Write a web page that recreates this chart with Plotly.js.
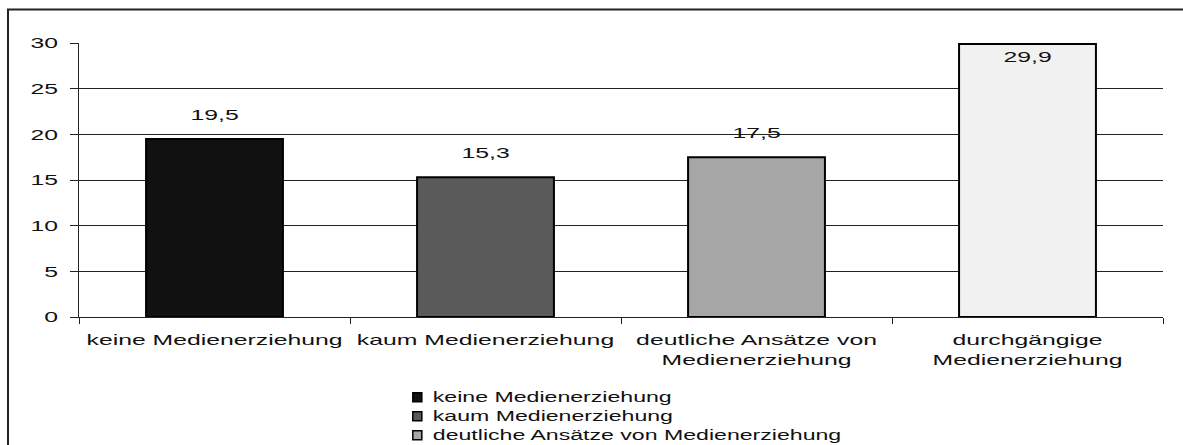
<!DOCTYPE html>
<html>
<head>
<meta charset="utf-8">
<script src="https://cdn.plot.ly/plotly-3.0.1.min.js"></script>
<style>
  html, body { margin: 0; padding: 0; background: #fff; }
  #chart { width: 1183px; height: 445px; }
</style>
</head>
<body>
<div id="chart"></div>
<script>
// ---- data ----
var categories = [
  "keine Medienerziehung",
  "kaum Medienerziehung",
  "deutliche Ansätze von Medienerziehung",
  "durchgängige Medienerziehung"
];
var tickLabels = [
  "keine Medienerziehung",
  "kaum Medienerziehung",
  "deutliche Ansätze von<br>Medienerziehung",
  "durchgängige<br>Medienerziehung"
];
var values = [19.5, 15.3, 17.5, 29.9];
var barColors = ["#111111", "#5a5a5a", "#a6a6a6", "#f1f1f1"];
// the reference legend is cut by the frame after the third entry
var legendVisible = [true, true, true, false];

var FONT = "Liberation Sans, Arial, sans-serif";

var traces = categories.map(function (name, i) {
  return {
    type: "bar",
    name: name,
    x: [tickLabels[i]],
    y: [values[i]],
    showlegend: legendVisible[i],
    marker: { color: barColors[i], line: { color: "#000", width: 2 } },
    hoverinfo: "skip"
  };
});

function fmt(v) { return v.toFixed(1).replace(".", ","); }

var annotations = values.map(function (v, i) {
  var inside = v > 28;
  return {
    x: tickLabels[i], y: v, xref: "x", yref: "y",
    text: fmt(v), showarrow: false,
    yanchor: inside ? "top" : "bottom",
    yshift: inside ? -2 : 14,
    font: { family: FONT, size: 15, color: "#111" }
  };
});

var layout = {
  width: 1183, height: 445,
  margin: { l: 79, r: 20, t: 43, b: 127.5, autoexpand: false },
  paper_bgcolor: "#fff", plot_bgcolor: "#fff",
  font: { family: FONT, size: 15, color: "#111" },
  separators: ",.",
  barmode: "overlay",
  bargap: 0.495,
  showlegend: true,
  legend: {
    x: 0.2895, xanchor: "left",
    y: -0.24, yanchor: "top",
    font: { family: FONT, size: 11.5, color: "#111" },
    bgcolor: "rgba(0,0,0,0)",
    itemwidth: 30,
    tracegroupgap: 0,
    traceorder: "normal"
  },
  xaxis: {
    type: "category",
    showgrid: false,
    showline: true, linecolor: "#222", linewidth: 1,
    ticks: "outside", ticklen: 6, tickcolor: "#222", tickwidth: 1,
    tickson: "boundaries",
    ticklabelstandoff: 9,
    tickfont: { family: FONT, size: 15, color: "#111" },
    fixedrange: true
  },
  yaxis: {
    range: [0, 30],
    dtick: 5, tick0: 0,
    showgrid: true, gridcolor: "#222", gridwidth: 1,
    showline: true, linecolor: "#222", linewidth: 1,
    ticks: "outside", ticklen: 8, tickcolor: "#222", tickwidth: 1,
    ticklabelstandoff: 9,
    tickfont: { family: FONT, size: 15, color: "#111" },
    zeroline: false,
    fixedrange: true
  },
  annotations: annotations,
  shapes: [{
    type: "rect", xref: "paper", yref: "paper",
    x0: -0.0655, x1: 1.2, y0: -1, y1: 1.122,
    line: { color: "#222", width: 2 }, fillcolor: "rgba(0,0,0,0)",
    layer: "below"
  }]
};

function stretchText() {
  var STRETCH = 1.65;
  // legend: larger glyphs, no clipping, smaller swatches closer to the text
  document.querySelectorAll("#chart svg .legend [clip-path]").forEach(function (g) {
    g.removeAttribute("clip-path");
  });
  document.querySelectorAll("#chart svg .legend text").forEach(function (t) {
    t.style.fontSize = "14px";
  });
  document.querySelectorAll("#chart svg .legend .legendpoints path").forEach(function (p) {
    p.setAttribute("d", "M9,4.5H0V-4.5H9Z");
    p.style.strokeWidth = "1.5px";
  });
  document.querySelectorAll("#chart svg text").forEach(function (t) {
    var lines = t.querySelectorAll("tspan.line");
    var targets = lines.length ? Array.prototype.slice.call(lines) : [t];
    targets.forEach(function (el) {
      var w = el.getComputedTextLength();
      if (w > 0) {
        el.setAttribute("textLength", (w * STRETCH).toFixed(1));
        el.setAttribute("lengthAdjust", "spacingAndGlyphs");
      }
    });
  });
}

Plotly.newPlot("chart", traces, layout, { staticPlot: true, displayModeBar: false })
  .then(stretchText);
</script>
</body>
</html>
